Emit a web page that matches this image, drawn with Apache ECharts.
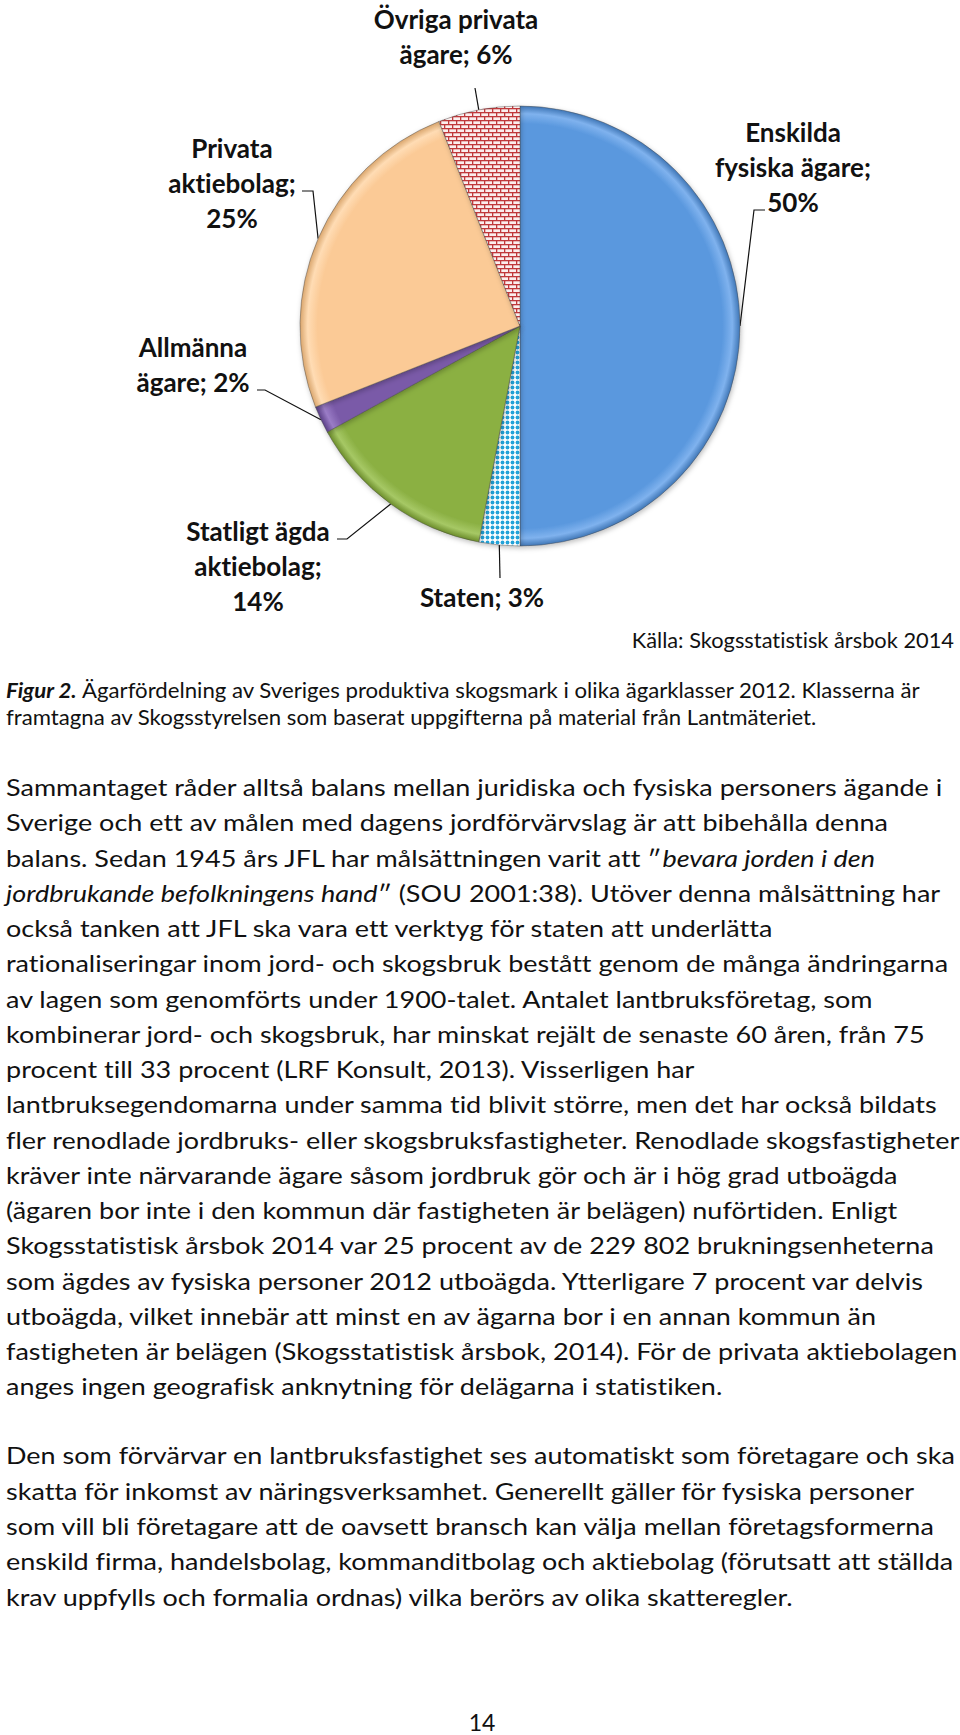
<!DOCTYPE html>
<html>
<head>
<meta charset="utf-8">
<script src="https://cdn.jsdelivr.net/npm/echarts@6/dist/echarts.min.js"></script>
<style>
html,body{margin:0;padding:0;background:#ffffff;}
#chart{width:960px;height:1735px;font-variant-ligatures:none;font-feature-settings:"liga" 0,"clig" 0,"dlig" 0;}
#chart text{font-variant-ligatures:none;font-feature-settings:"liga" 0,"clig" 0,"dlig" 0;}
</style>
</head>
<body>
<div id="chart"></div>
<script>
// ---------------- DATA ----------------
const categories = ['Enskilda\nfysiska ägare', 'Staten', 'Statligt ägda\naktiebolag', 'Allmänna\nägare', 'Privata\naktiebolag', 'Övriga privata\nägare'];
const shares = [50, 3, 14, 2, 25, 6];
const labelSeparators = ['\n', ' ', '\n', ' ', '\n', ' '];
const sourceText = 'Källa: Skogsstatistisk årsbok 2014';
const captionLines = [
  '*Figur 2.* Ägarfördelning av Sveriges produktiva skogsmark i olika ägarklasser 2012. Klasserna är',
  'framtagna av Skogsstyrelsen som baserat uppgifterna på material från Lantmäteriet.'
];
const paragraph1 = [
  'Sammantaget råder alltså balans mellan juridiska och fysiska personers ägande i',
  'Sverige och ett av målen med dagens jordförvärvslag är att bibehålla denna',
  'balans. Sedan 1945 års JFL har målsättningen varit att ″_bevara jorden i den_',
  '_jordbrukande befolkningens hand_″ (SOU 2001:38). Utöver denna målsättning har',
  'också tanken att JFL ska vara ett verktyg för staten att underlätta',
  'rationaliseringar inom jord- och skogsbruk bestått genom de många ändringarna',
  'av lagen som genomförts under 1900-talet. Antalet lantbruksföretag, som',
  'kombinerar jord- och skogsbruk, har minskat rejält de senaste 60 åren, från 75',
  'procent till 33 procent (LRF Konsult, 2013). Visserligen har',
  'lantbruksegendomarna under samma tid blivit större, men det har också bildats',
  'fler renodlade jordbruks- eller skogsbruksfastigheter. Renodlade skogsfastigheter',
  'kräver inte närvarande ägare såsom jordbruk gör och är i hög grad utboägda',
  '(ägaren bor inte i den kommun där fastigheten är belägen) nuförtiden. Enligt',
  'Skogsstatistisk årsbok 2014 var 25 procent av de 229 802 brukningsenheterna',
  'som ägdes av fysiska personer 2012 utboägda. Ytterligare 7 procent var delvis',
  'utboägda, vilket innebär att minst en av ägarna bor i en annan kommun än',
  'fastigheten är belägen (Skogsstatistisk årsbok, 2014). För de privata aktiebolagen',
  'anges ingen geografisk anknytning för delägarna i statistiken.'
];
const paragraph2 = [
  'Den som förvärvar en lantbruksfastighet ses automatiskt som företagare och ska',
  'skatta för inkomst av näringsverksamhet. Generellt gäller för fysiska personer',
  'som vill bli företagare att de oavsett bransch kan välja mellan företagsformerna',
  'enskild firma, handelsbolag, kommanditbolag och aktiebolag (förutsatt att ställda',
  'krav uppfylls och formalia ordnas) vilka berörs av olika skatteregler.'
];
const pageNumber = '14';

// ---------------- STYLE / LAYOUT ----------------
const FONT = 'Lato, "Open Sans", "Liberation Sans", sans-serif';
const PIE_CX = 520, PIE_CY = 326, PIE_R = 220;

function makeBrick() {
  const c = document.createElement('canvas');
  c.width = 8; c.height = 8;
  const g = c.getContext('2d');
  g.fillStyle = '#fbeeee'; g.fillRect(0, 0, 8, 8);
  g.fillStyle = '#c0393b';
  g.fillRect(0, 0, 8, 1.3);
  g.fillRect(0, 4, 8, 1.3);
  g.fillRect(0, 0, 1.3, 4);
  g.fillRect(4, 4, 1.3, 4);
  return c;
}
function makeDots() {
  const c = document.createElement('canvas');
  c.width = 5; c.height = 5;
  const g = c.getContext('2d');
  g.fillStyle = '#ffffff'; g.fillRect(0, 0, 5, 5);
  g.fillStyle = '#22a2d8';
  g.beginPath(); g.arc(2.5, 2.5, 1.9, 0, Math.PI * 2); g.fill();
  return c;
}
function pattern(canvas) {
  return { image: canvas.toDataURL('image/png'), repeat: 'repeat', imageWidth: canvas.width, imageHeight: canvas.height };
}
function bevel(base, light, dark) {
  return {
    type: 'radial', x: PIE_CX, y: PIE_CY, r: PIE_R, global: true,
    colorStops: [
      { offset: 0, color: base },
      { offset: 0.92, color: base },
      { offset: 0.965, color: light },
      { offset: 1, color: dark }
    ]
  };
}
const sliceFills = [
  bevel('#5a98de', '#7fb2ee', '#3f76b6'),
  pattern(makeDots()),
  bevel('#8bb043', '#a6c865', '#6b8c2a'),
  bevel('#7a5aa8', '#9a7cc6', '#5a3f86'),
  bevel('#fbca96', '#ffdcb4', '#d9a56c'),
  pattern(makeBrick())
];
// label centres and leader-line elbows (layout)
const labelPos = [[793, 167], [482, 597], [258, 566], [193, 364], [232, 183], [456, 36]];
const leaderTail = [
  [[754, 210], [765, 210]],
  [[500, 578]],
  [[347, 539], [337, 539]],
  [[265, 390], [257, 390]],
  [[313, 191], [302, 191]],
  [[475, 88]]
];

// ---------------- TEXT HELPERS ----------------
const measureCtx = document.createElement('canvas').getContext('2d');
function measure(font, text) { measureCtx.font = font; return measureCtx.measureText(text).width; }

function toRich(line) {
  // *...* bold italic, _..._ italic
  let out = '';
  const re = /(\*[^*]+\*|_[^_]+_)/g;
  let last = 0, m;
  while ((m = re.exec(line)) !== null) {
    if (m.index > last) out += '{n|' + line.slice(last, m.index) + '}';
    const t = m[0];
    out += (t[0] === '*' ? '{b|' : '{i|') + t.slice(1, -1) + '}';
    last = m.index + t.length;
  }
  if (last < line.length) out += '{n|' + line.slice(last) + '}';
  return out;
}
function richStyles(size) {
  return {
    n: { fontFamily: FONT, fontSize: size, fill: '#111' },
    i: { fontFamily: FONT, fontSize: size, fontStyle: 'italic', fill: '#111' },
    b: { fontFamily: FONT, fontSize: size, fontStyle: 'italic', fontWeight: 'bold', fill: '#111' }
  };
}

const BODY_SIZE = 23;
const bodyScale = 937 / measure(BODY_SIZE + 'px Lato', paragraph1[0]);
const CAP_SIZE = 21;
const capW = measure('italic bold ' + CAP_SIZE + 'px Lato', 'Figur 2.') +
             measure(CAP_SIZE + 'px Lato', captionLines[0].replace(/\*[^*]+\*/, ''));
const capScale = 916 / capW;
const srcScale = 323 / measure(CAP_SIZE + 'px Lato', sourceText);

const graphics = [];
function addLines(lines, x0, y0, gap, size, scale) {
  lines.forEach((ln, k) => {
    graphics.push({
      type: 'text', x: x0, y: y0 + k * gap, scaleX: scale, silent: true,
      style: { text: toRich(ln), rich: richStyles(size), textAlign: 'left', textVerticalAlign: 'middle' }
    });
  });
}
graphics.push({
  type: 'text', x: 954, y: 640, scaleX: srcScale, silent: true,
  style: { text: sourceText, fontFamily: FONT, fontSize: CAP_SIZE, fill: '#111', textAlign: 'right', textVerticalAlign: 'middle' }
});
addLines(captionLines, 6, 690, 27.5, CAP_SIZE, capScale);
addLines(paragraph1, 6, 787, 35.25, BODY_SIZE, bodyScale);
addLines(paragraph2, 6, 1455, 35.4, BODY_SIZE, bodyScale);
graphics.push({
  type: 'text', x: 482, y: 1722, silent: true,
  style: { text: pageNumber, fontFamily: FONT, fontSize: 23, fill: '#111', textAlign: 'center', textVerticalAlign: 'middle' }
});

// ---------------- CHART ----------------
const chart = echarts.init(document.getElementById('chart'), null, { renderer: 'svg' });
chart.setOption({
  backgroundColor: '#ffffff',
  animation: false,
  series: [{
    type: 'pie',
    center: [PIE_CX, PIE_CY],
    radius: PIE_R,
    startAngle: 90,
    clockwise: true,
    avoidLabelOverlap: false,
    silent: true,
    data: categories.map((name, i) => ({
      name: name, value: shares[i],
      itemStyle: { color: sliceFills[i] }
    })),
    itemStyle: {
      borderColor: 'rgba(70,70,70,0.55)', borderWidth: 0.8,
      shadowBlur: 5, shadowColor: 'rgba(0,0,0,0.25)', shadowOffsetX: 1, shadowOffsetY: 2
    },
    label: {
      show: true, position: 'outside',
      formatter: p => p.name + ';' + labelSeparators[p.dataIndex] + Math.round(p.percent) + '%',
      fontFamily: FONT, fontWeight: 'bold', fontSize: 26, lineHeight: 35,
      color: '#111', align: 'center'
    },
    labelLine: { show: true, length: 10, length2: 10, smooth: false, lineStyle: { color: '#111', width: 1.2 } },
    labelLayout: function (params) {
      const i = params.dataIndex;
      let start = params.labelLinePoints && params.labelLinePoints[0];
      if (!start) start = [PIE_CX, PIE_CY];
      return {
        x: labelPos[i][0], y: labelPos[i][1],
        align: 'center', verticalAlign: 'middle',
        labelLinePoints: [start].concat(leaderTail[i])
      };
    }
  }],
  graphic: graphics
});
</script>
</body>
</html>
